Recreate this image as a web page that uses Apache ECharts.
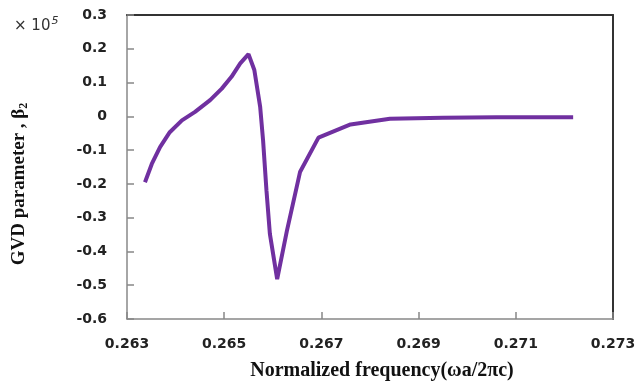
<!DOCTYPE html>
<html>
<head>
<meta charset="utf-8">
<script src="https://cdn.jsdelivr.net/npm/echarts@6/dist/echarts.min.js"></script>
<style>html,body{margin:0;padding:0;background:#fff;}#c{width:640px;height:385px;}</style>
</head>
<body>
<div id="c"></div>
<script>
var freq = [0.26337, 0.26351, 0.26368, 0.26388, 0.26413, 0.26440, 0.26471, 0.26495, 0.26515, 0.26533, 0.26550, 0.26562, 0.26574, 0.26580, 0.26587, 0.26594, 0.26609, 0.26629, 0.26656, 0.26694, 0.26760, 0.26841, 0.26950, 0.27060, 0.27218];
var gvd = [-0.195, -0.141, -0.091, -0.047, -0.012, 0.013, 0.048, 0.082, 0.117, 0.157, 0.184, 0.137, 0.028, -0.071, -0.220, -0.348, -0.482, -0.339, -0.165, -0.063, -0.024, -0.007, -0.004, -0.003, -0.003];
var xTitle = 'Normalized frequency(\u03c9a/2\u03c0c)';
var yTitle = 'GVD parameter , \u03b2';
var yTitleSub = '2';
var scaleText = '\u00d7 10';
var scaleExp = '5';

var chart = echarts.init(document.getElementById('c'), null, {renderer: 'canvas'});
var labelFont = {color: '#222', fontFamily: 'DejaVu Sans', fontWeight: 'bold', fontSize: 14};
var titleFont = {fontFamily: 'Liberation Serif', fontWeight: 'bold', fontSize: 20, fill: '#111'};
chart.setOption({
  animation: false,
  grid: {left: 127, right: 27, top: 15, bottom: 66},
  xAxis: [{
    type: 'value', min: 0.263, max: 0.273, interval: 0.002,
    axisLine: {onZero: false, lineStyle: {color: '#888', width: 1.5}},
    axisTick: {inside: true, length: 7, lineStyle: {color: '#888', width: 1.5}},
    splitLine: {show: false},
    axisLabel: Object.assign({margin: 18, formatter: function(v){return v.toFixed(3);}}, labelFont)
  }, {
    type: 'value', position: 'top', min: 0.263, max: 0.273,
    axisLine: {show: true, onZero: false, lineStyle: {color: '#333', width: 2}},
    axisTick: {show: false}, axisLabel: {show: false}, splitLine: {show: false}
  }],
  yAxis: [{
    type: 'value', min: -0.6, max: 0.3, interval: 0.1,
    axisLine: {show: true, onZero: false, lineStyle: {color: '#888', width: 1.5}},
    axisTick: {show: true, inside: true, length: 7, lineStyle: {color: '#888', width: 1.5}},
    splitLine: {show: false},
    axisLabel: Object.assign({margin: 20, formatter: function(v){return String(Math.round(v*10)/10);}}, labelFont)
  }, {
    type: 'value', position: 'right', min: -0.6, max: 0.3,
    axisLine: {show: true, onZero: false, lineStyle: {color: '#333', width: 2}},
    axisTick: {show: false}, axisLabel: {show: false}, splitLine: {show: false}
  }],
  graphic: [{
    type: 'text', left: 14, top: 16,
    style: {
      text: '{a|' + scaleText + '}{b|' + scaleExp + '}',
      rich: {
        a: {fontFamily: 'DejaVu Sans', fontSize: 15, fill: '#333'},
        b: {fontFamily: 'DejaVu Sans', fontStyle: 'italic', fontSize: 11, fill: '#333', padding: [0, 0, 9, 1]}
      }
    }
  }, {
    type: 'text', x: 382, y: 371,
    style: Object.assign({text: xTitle, textAlign: 'center', textVerticalAlign: 'middle'}, titleFont)
  }, {
    type: 'text', x: 19, y: 184, rotation: Math.PI / 2,
    style: {
      text: '{a|' + yTitle + '}{s|' + yTitleSub + '}',
      textAlign: 'center', textVerticalAlign: 'middle',
      rich: {
        a: {fontFamily: 'Liberation Serif', fontWeight: 'bold', fontSize: 19, fill: '#111'},
        s: {fontFamily: 'Liberation Serif', fontWeight: 'bold', fontSize: 12, fill: '#111', padding: [9, 0, 0, 0]}
      }
    }
  }],
  series: [{
    type: 'line', xAxisIndex: 0, yAxisIndex: 0,
    data: freq.map(function(f, i){ return [f, gvd[i]]; }),
    showSymbol: false, smooth: false,
    lineStyle: {color: '#7030A0', width: 4},
    itemStyle: {color: '#7030A0'}
  }]
});
</script>
</body>
</html>
